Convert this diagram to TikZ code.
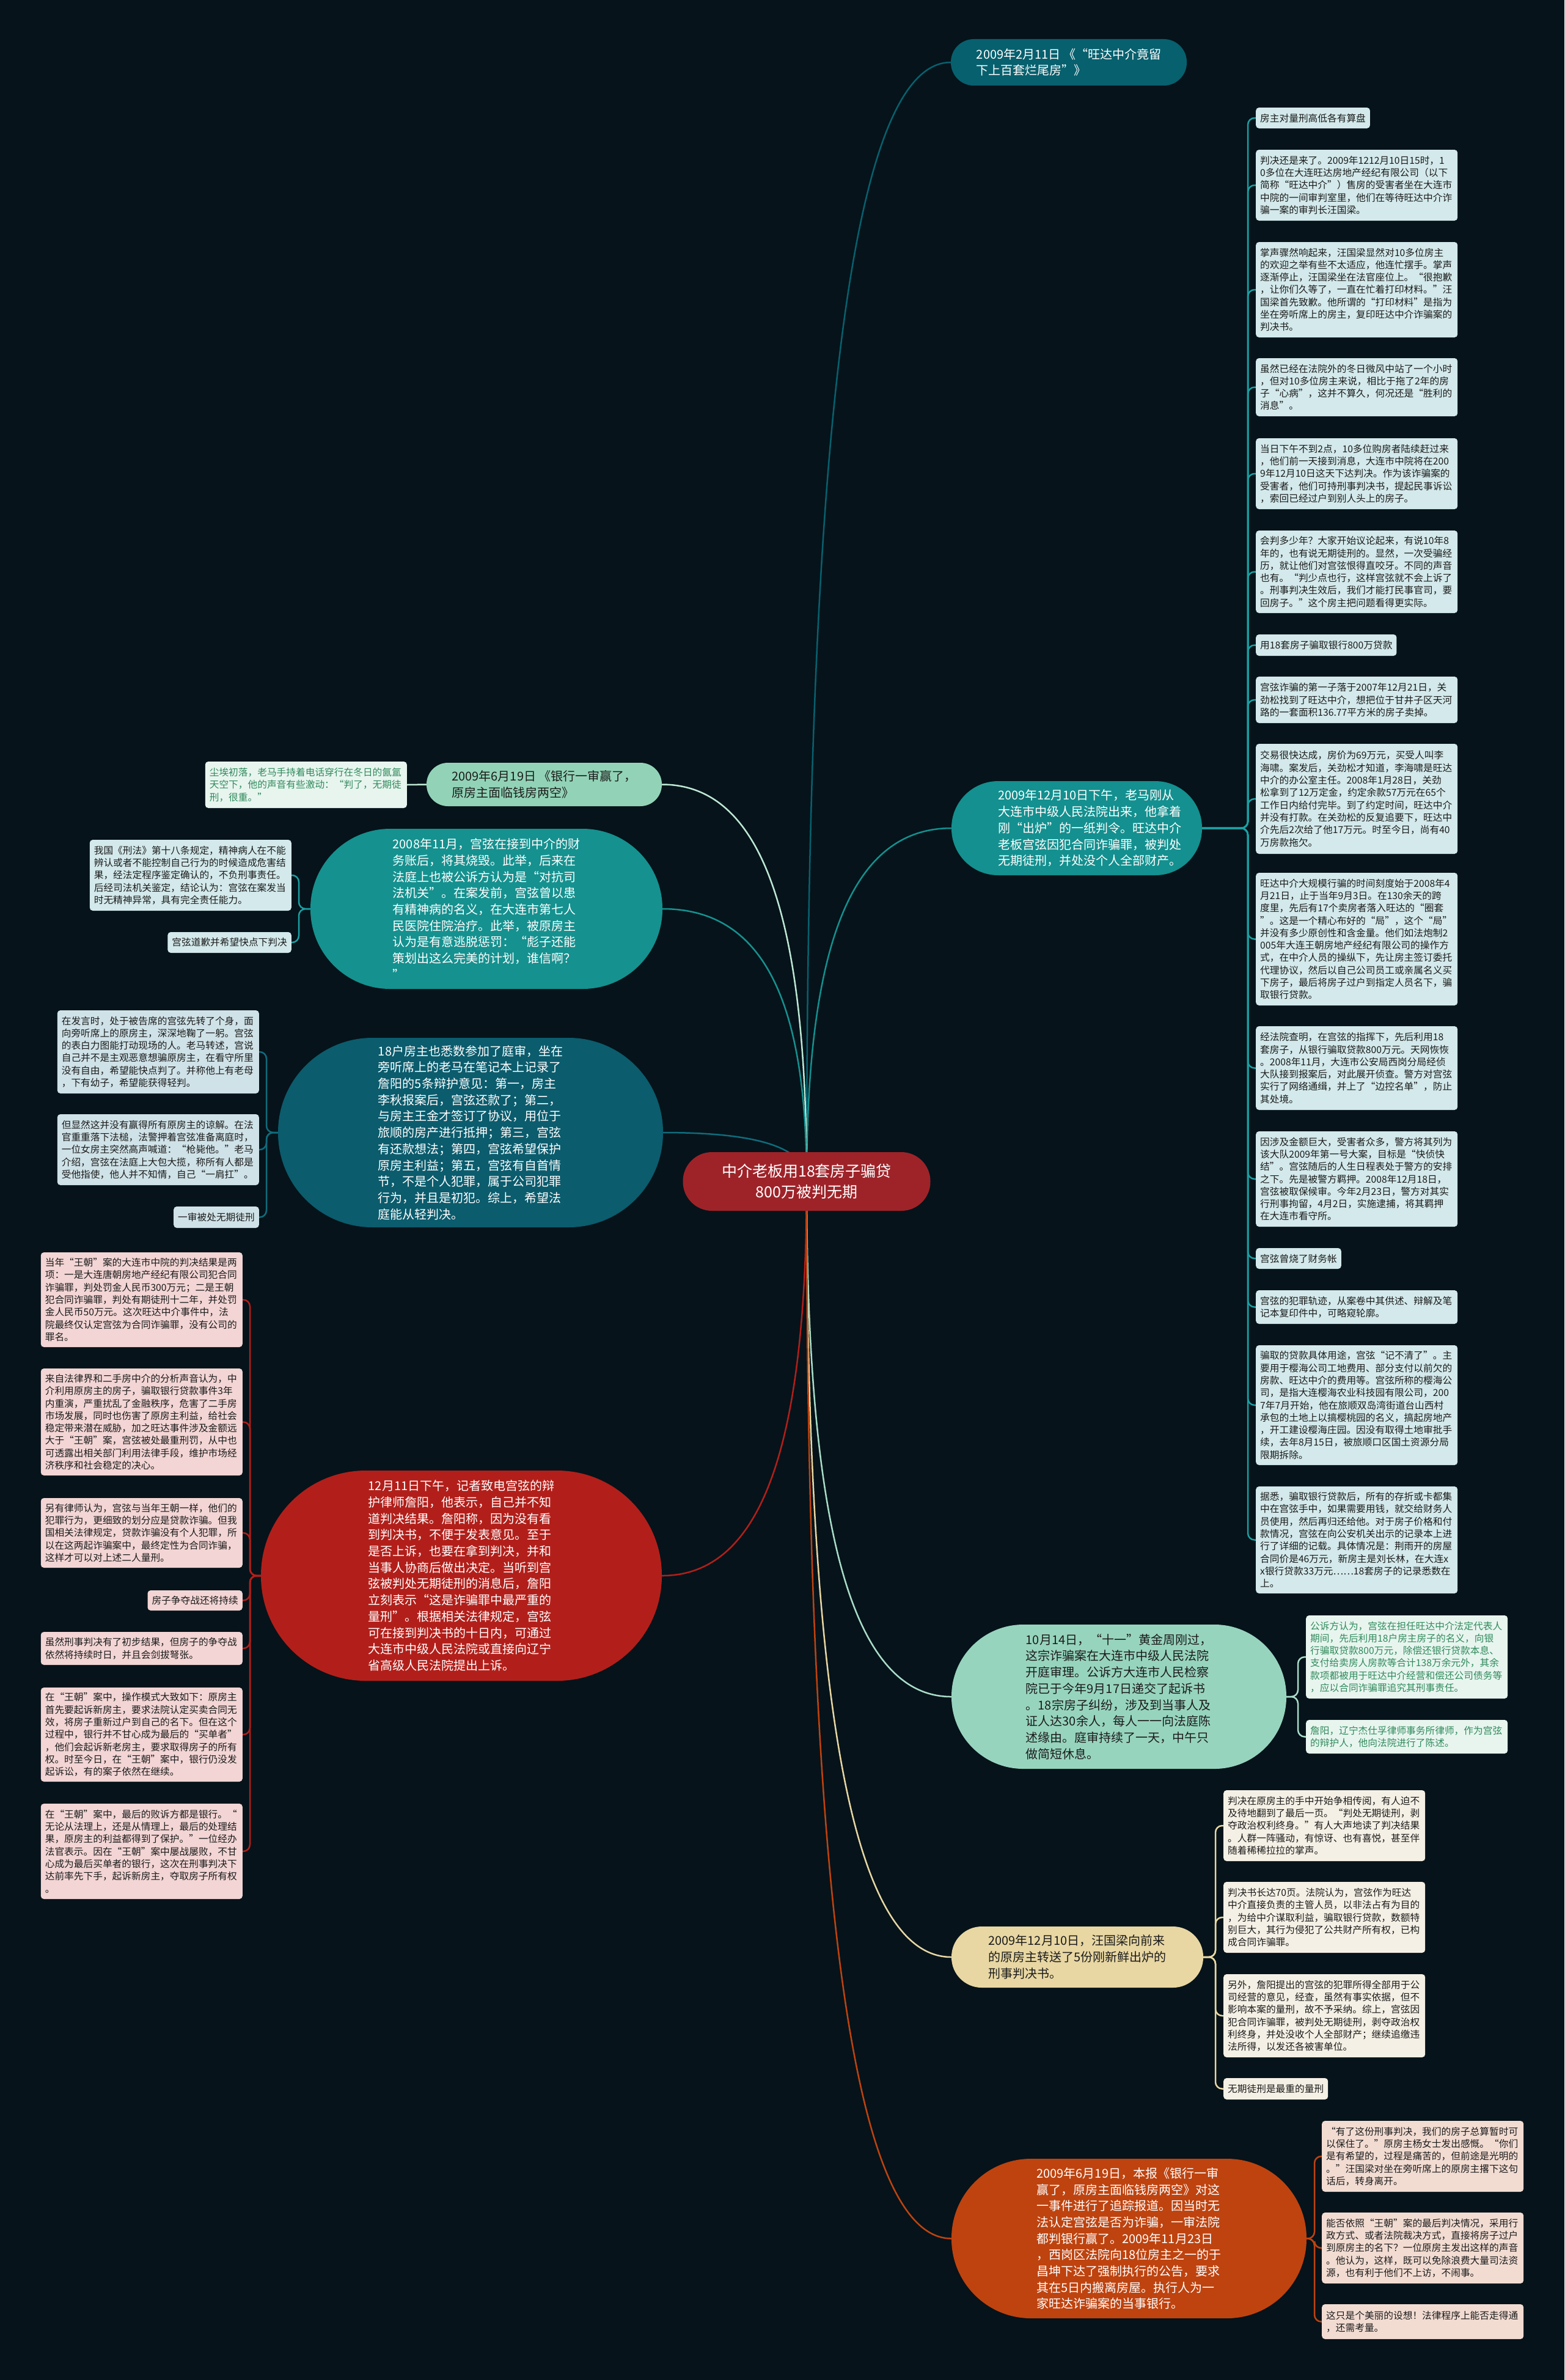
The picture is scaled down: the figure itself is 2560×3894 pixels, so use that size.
\documentclass[tikz,border=0pt]{standalone}
\usepackage{fontspec}
\setmainfont{Noto Sans CJK SC}
\usetikzlibrary{calc}
\pgfdeclarelayer{bg}
\pgfdeclarelayer{edges}
\pgfsetlayers{bg,edges,main}
\definecolor{bgc}{HTML}{06131A}
\definecolor{rootc}{HTML}{9E2329}
\definecolor{tfill}{HTML}{07606E}
\definecolor{dfill}{HTML}{13908F}
\definecolor{dleaf}{HTML}{D3E9EB}
\definecolor{dline}{HTML}{1A9FA2}
\definecolor{aonefill}{HTML}{92D3B7}
\definecolor{aoneline}{HTML}{BDE8D4}
\definecolor{gleaf}{HTML}{E8F5EF}
\definecolor{gtxt}{HTML}{2F8A5B}
\definecolor{atwofill}{HTML}{15918F}
\definecolor{athreefill}{HTML}{0B5C6D}
\definecolor{athreeleaf}{HTML}{CFE2E7}
\definecolor{athreeline}{HTML}{0F6B7C}
\definecolor{redfill}{HTML}{B21F1A}
\definecolor{redleaf}{HTML}{F2D5D4}
\definecolor{bonefill}{HTML}{97D4BE}
\definecolor{boneline}{HTML}{A9DDC8}
\definecolor{btwofill}{HTML}{E8D7A3}
\definecolor{btwoleaf}{HTML}{F5F0E5}
\definecolor{bthreefill}{HTML}{BE430F}
\definecolor{bthreeleaf}{HTML}{F2DCD2}
\definecolor{txtdark}{HTML}{1B1B1B}
\newcommand\lf{\fontsize{15.7pt}{20.3pt}\selectfont}
\newcommand\bfn{\fontsize{20pt}{26.7pt}\selectfont}
\newcommand\rtf{\fontsize{25pt}{34pt}\selectfont}
\newcommand\medge[2]{\draw[mlink,#1] (rc) .. controls ($(rc)!0.66!(rc|-#2)$) and ($(rc|-#2)!0.3!(#2)$) .. (#2);}
\tikzset{
 leafbox/.style={rounded corners=5pt, inner xsep=7pt, inner ysep=3pt, align=left, font=\lf, text=txtdark},
 wide/.style={text width=316pt},
 branch/.style={inner sep=0pt, align=left, font=\bfn},
 link/.style={line width=2.5pt, rounded corners=11pt},
 mlink/.style={line width=2.5pt},
}
\begin{document}
\begin{tikzpicture}[x=1pt,y=-1pt]
\useasboundingbox (0,0) rectangle (2560,3894);
\begin{pgfonlayer}{bg}
\fill[bgc] (0,0) rectangle (2560,3894);
\end{pgfonlayer}

% root
\node[fill=rootc, text=white, font=\rtf, align=center, minimum width=405pt, minimum height=96pt, rounded corners=47.5pt, inner sep=0pt] (root) at (1320,1933) {中介老板用18套房子骗贷\\800万被判无期};
\coordinate (rc) at (root.center);

% top branch
\node[branch, fill=tfill, text=white, minimum width=386pt, minimum height=76pt, rounded corners=37.5pt] (T) at (1749,102) {2009年2月11日 《“旺达中介竟留\\下上百套烂尾房”》};

% D branch (shape + text)
\node[branch, fill=dfill, minimum width=410pt, minimum height=154pt, rounded corners=76.5pt] (D) at (1762,1355) {};
\node[branch, text=white] (Dt) at (1783,1355) {2009年12月10日下午，老马刚从\\大连市中级人民法院出来，他拿着\\刚“出炉”的一纸判令。旺达中介\\老板宫弦因犯合同诈骗罪，被判处\\无期徒刑，并处没个人全部财产。};
\coordinate (Dj) at (2042,0);

\node[leafbox, fill=dleaf, anchor=west, minimum height=34pt] (D1) at (2055,193) {房主对量刑高低各有算盘};
\node[leafbox, wide, fill=dleaf, anchor=west, minimum height=116pt] (D2) at (2055,303) {判决还是来了。2009年1212月10日15时，1\\0多位在大连旺达房地产经纪有限公司（以下\\简称“旺达中介”）售房的受害者坐在大连市\\中院的一间审判室里，他们在等待旺达中介诈\\骗一案的审判长汪国梁。};
\node[leafbox, wide, fill=dleaf, anchor=west, minimum height=156pt] (D3) at (2055,474) {掌声骤然响起来，汪国梁显然对10多位房主\\的欢迎之举有些不太适应，他连忙摆手。掌声\\逐渐停止，汪国梁坐在法官座位上。“很抱歉\\，让你们久等了，一直在忙着打印材料。”汪\\国梁首先致歉。他所谓的“打印材料”是指为\\坐在旁听席上的房主，复印旺达中介诈骗案的\\判决书。};
\node[leafbox, wide, fill=dleaf, anchor=west, minimum height=95pt] (D4) at (2055,633.5) {虽然已经在法院外的冬日微风中站了一个小时\\，但对10多位房主来说，相比于拖了2年的房\\子“心病”，这并不算久，何况还是“胜利的\\消息”。};
\node[leafbox, wide, fill=dleaf, anchor=west, minimum height=116pt] (D5) at (2055,775) {当日下午不到2点，10多位购房者陆续赶过来\\，他们前一天接到消息，大连市中院将在200\\9年12月10日这天下达判决。作为该诈骗案的\\受害者，他们可持刑事判决书，提起民事诉讼\\，索回已经过户到别人头上的房子。};
\node[leafbox, wide, fill=dleaf, anchor=west, minimum height=135pt] (D6) at (2055,935.5) {会判多少年？大家开始议论起来，有说10年8\\年的，也有说无期徒刑的。显然，一次受骗经\\历，就让他们对宫弦恨得直咬牙。不同的声音\\也有。“判少点也行，这样宫弦就不会上诉了\\。刑事判决生效后，我们才能打民事官司，要\\回房子。”这个房主把问题看得更实际。};
\node[leafbox, fill=dleaf, anchor=west, minimum height=35pt] (D7) at (2055,1055.5) {用18套房子骗取银行800万贷款};
\node[leafbox, wide, fill=dleaf, anchor=west, minimum height=76pt] (D8) at (2055,1145) {宫弦诈骗的第一子落于2007年12月21日，关\\劲松找到了旺达中介，想把位于甘井子区天河\\路的一套面积136.77平方米的房子卖掉。};
\node[leafbox, wide, fill=dleaf, anchor=west, minimum height=180pt] (D9) at (2055,1307) {交易很快达成，房价为69万元，买受人叫李\\海啸。案发后，关劲松才知道，李海啸是旺达\\中介的办公室主任。2008年1月28日，关劲\\松拿到了12万定金，约定余款57万元在65个\\工作日内给付完毕。到了约定时间，旺达中介\\并没有打款。在关劲松的反复追要下，旺达中\\介先后2次给了他17万元。时至今日，尚有40\\万房款拖欠。};
\node[leafbox, wide, fill=dleaf, anchor=west, minimum height=217pt] (D10) at (2055,1536.5) {旺达中介大规模行骗的时间刻度始于2008年4\\月21日，止于当年9月3日。在130余天的跨\\度里，先后有17个卖房者落入旺达的“圈套\\”。这是一个精心布好的“局”，这个“局”\\并没有多少原创性和含金量。他们如法炮制2\\005年大连王朝房地产经纪有限公司的操作方\\式，在中介人员的操纵下，先让房主签订委托\\代理协议，然后以自己公司员工或亲属名义买\\下房子，最后将房子过户到指定人员名下，骗\\取银行贷款。};
\node[leafbox, wide, fill=dleaf, anchor=west, minimum height=137pt] (D11) at (2055,1747.5) {经法院查明，在宫弦的指挥下，先后利用18\\套房子，从银行骗取贷款800万元。天网恢恢\\。2008年11月，大连市公安局西岗分局经侦\\大队接到报案后，对此展开侦查。警方对宫弦\\实行了网络通缉，并上了“边控名单”，防止\\其处境。};
\node[leafbox, wide, fill=dleaf, anchor=west, minimum height=156pt] (D12) at (2055,1929) {因涉及金额巨大，受害者众多，警方将其列为\\该大队2009年第一号大案，目标是“快侦快\\结”。宫弦随后的人生日程表处于警方的安排\\之下。先是被警方羁押。2008年12月18日，\\宫弦被取保候审。今年2月23日，警方对其实\\行刑事拘留，4月2日，实施逮捕，将其羁押\\在大连市看守所。};
\node[leafbox, fill=dleaf, anchor=west, minimum height=34pt] (D13) at (2055,2059) {宫弦曾烧了财务帐};
\node[leafbox, wide, fill=dleaf, anchor=west, minimum height=55pt] (D14) at (2055,2138.5) {宫弦的犯罪轨迹，从案卷中其供述、辩解及笔\\记本复印件中，可略窥轮廓。};
\node[leafbox, wide, fill=dleaf, anchor=west, minimum height=196pt] (D15) at (2055,2299) {骗取的贷款具体用途，宫弦“记不清了”。主\\要用于樱海公司工地费用、部分支付以前欠的\\房款、旺达中介的费用等。宫弦所称的樱海公\\司，是指大连樱海农业科技园有限公司，200\\7年7月开始，他在旅顺双岛湾街道台山西村\\承包的土地上以搞樱桃园的名义，搞起房地产\\，开工建设樱海庄园。因没有取得土地审批手\\续，去年8月15日，被旅顺口区国土资源分局\\限期拆除。};
\node[leafbox, wide, fill=dleaf, anchor=west, minimum height=175pt] (D16) at (2055,2519.5) {据悉，骗取银行贷款后，所有的存折或卡都集\\中在宫弦手中，如果需要用钱，就交给财务人\\员使用，然后再归还给他。对于房子价格和付\\款情况，宫弦在向公安机关出示的记录本上进\\行了详细的记载。具体情况是：荆雨开的房屋\\合同价是46万元，新房主是刘长林，在大连x\\x银行贷款33万元……18套房子的记录悉数在\\上。};

% A1 branch
\node[branch, fill=aonefill, text=txtdark, minimum width=385pt, minimum height=71pt, rounded corners=35pt] (A1) at (890.5,1283.5) {2009年6月19日 《银行一审赢了，\\原房主面临钱房两空》};
\node[leafbox, wide, fill=gleaf, text=gtxt, anchor=east, minimum height=76pt] (A1a) at (666,1284) {尘埃初落，老马手持着电话穿行在冬日的氤氲\\天空下，他的声音有些激动：“判了，无期徒\\刑，很重。”};

% A2 branch
\node[branch, fill=atwofill, text=white, minimum width=576pt, minimum height=262pt, rounded corners=130.5pt] (A2) at (796,1487) {2008年11月，宫弦在接到中介的财\\务账后，将其烧毁。此举，后来在\\法庭上也被公诉方认为是“对抗司\\法机关”。在案发前，宫弦曾以患\\有精神病的名义，在大连市第七人\\民医院住院治疗。此举，被原房主\\认为是有意逃脱惩罚：“彪子还能\\策划出这么完美的计划，谁信啊？\\”};
\coordinate (A2j) at (489,0);
\node[leafbox, wide, fill=dleaf, anchor=east, minimum height=116pt] (A2a) at (477,1432) {我国《刑法》第十八条规定，精神病人在不能\\辨认或者不能控制自己行为的时候造成危害结\\果，经法定程序鉴定确认的，不负刑事责任。\\后经司法机关鉴定，结论认为：宫弦在案发当\\时无精神异常，具有完全责任能力。};
\node[leafbox, fill=dleaf, anchor=east, minimum height=34pt] (A2b) at (477,1542) {宫弦道歉并希望快点下判决};

% A3 branch
\node[branch, fill=athreefill, text=white, minimum width=630pt, minimum height=310pt, rounded corners=154.5pt] (A3) at (770,1853) {18户房主也悉数参加了庭审，坐在\\旁听席上的老马在笔记本上记录了\\詹阳的5条辩护意见：第一，房主\\李秋报案后，宫弦还款了；第二，\\与房主王金才签订了协议，用位于\\旅顺的房产进行抵押；第三，宫弦\\有还款想法；第四，宫弦希望保护\\原房主利益；第五，宫弦有自首情\\节，不是个人犯罪，属于公司犯罪\\行为，并且是初犯。综上，希望法\\庭能从轻判决。};
\coordinate (A3j) at (436,0);
\node[leafbox, wide, fill=athreeleaf, anchor=east, minimum height=136pt] (A3a) at (424,1721) {在发言时，处于被告席的宫弦先转了个身，面\\向旁听席上的原房主，深深地鞠了一躬。宫弦\\的表白力图能打动现场的人。老马转述，宫说\\自己并不是主观恶意想骗原房主，在看守所里\\没有自由，希望能快点判了。并称他上有老母\\，下有幼子，希望能获得轻判。};
\node[leafbox, wide, fill=athreeleaf, anchor=east, minimum height=116pt] (A3b) at (424,1881) {但显然这并没有赢得所有原房主的谅解。在法\\官重重落下法槌，法警押着宫弦准备离庭时，\\一位女房主突然高声喊道：“枪毙他。”老马\\介绍，宫弦在法庭上大包大揽，称所有人都是\\受他指使，他人并不知情，自己“一肩扛”。};
\node[leafbox, fill=athreeleaf, anchor=east, minimum height=35pt] (A3c) at (424,1991.5) {一审被处无期徒刑};

% A4 red branch
\node[branch, fill=redfill, text=white, minimum width=656pt, minimum height=344pt, rounded corners=171.5pt] (A4) at (755,2578) {12月11日下午，记者致电宫弦的辩\\护律师詹阳，他表示，自己并不知\\道判决结果。詹阳称，因为没有看\\到判决书，不便于发表意见。至于\\是否上诉，也要在拿到判决，并和\\当事人协商后做出决定。当听到宫\\弦被判处无期徒刑的消息后，詹阳\\立刻表示“这是诈骗罪中最严重的\\量刑”。根据相关法律规定，宫弦\\可在接到判决书的十日内，可通过\\大连市中级人民法院或直接向辽宁\\省高级人民法院提出上诉。};
\coordinate (A4j) at (409,0);
\node[leafbox, wide, fill=redleaf, anchor=east, minimum height=155pt] (A4a) at (397,2126.5) {当年“王朝”案的大连市中院的判决结果是两\\项：一是大连唐朝房地产经纪有限公司犯合同\\诈骗罪，判处罚金人民币300万元；二是王朝\\犯合同诈骗罪，判处有期徒刑十二年，并处罚\\金人民币50万元。这次旺达中介事件中，法\\院最终仅认定宫弦为合同诈骗罪，没有公司的\\罪名。};
\node[leafbox, wide, fill=redleaf, anchor=east, minimum height=175pt] (A4b) at (397,2326.5) {来自法律界和二手房中介的分析声音认为，中\\介利用原房主的房子，骗取银行贷款事件3年\\内重演，严重扰乱了金融秩序，危害了二手房\\市场发展，同时也伤害了原房主利益，给社会\\稳定带来潜在威胁，加之旺达事件涉及金额远\\大于“王朝”案，宫弦被处最重刑罚，从中也\\可透露出相关部门利用法律手段，维护市场经\\济秩序和社会稳定的决心。};
\node[leafbox, wide, fill=redleaf, anchor=east, minimum height=114pt] (A4c) at (397,2508) {另有律师认为，宫弦与当年王朝一样，他们的\\犯罪行为，更细致的划分应是贷款诈骗。但我\\国相关法律规定，贷款诈骗没有个人犯罪，所\\以在这两起诈骗案中，最终定性为合同诈骗，\\这样才可以对上述二人量刑。};
\node[leafbox, fill=redleaf, anchor=east, minimum height=33pt] (A4d) at (397,2618.5) {房子争夺战还将持续};
\node[leafbox, wide, fill=redleaf, anchor=east, minimum height=54pt] (A4e) at (397,2697) {虽然刑事判决有了初步结果，但房子的争夺战\\依然将持续时日，并且会剑拔弩张。};
\node[leafbox, wide, fill=redleaf, anchor=east, minimum height=154pt] (A4f) at (397,2838) {在“王朝”案中，操作模式大致如下：原房主\\首先要起诉新房主，要求法院认定买卖合同无\\效，将房子重新过户到自己的名下。但在这个\\过程中，银行并不甘心成为最后的“买单者”\\，他们会起诉新老房主，要求取得房子的所有\\权。时至今日，在“王朝”案中，银行仍没发\\起诉讼，有的案子依然在继续。};
\node[leafbox, wide, fill=redleaf, anchor=east, minimum height=156pt] (A4g) at (397,3029) {在“王朝”案中，最后的败诉方都是银行。“\\无论从法理上，还是从情理上，最后的处理结\\果，原房主的利益都得到了保护。”一位经办\\法官表示。因在“王朝”案中屡战屡败，不甘\\心成为最后买单者的银行，这次在刑事判决下\\达前率先下手，起诉新房主，夺取房子所有权\\。};

% B1 branch
\node[branch, fill=bonefill, text=txtdark, minimum width=548pt, minimum height=236pt, rounded corners=117.5pt] (B1) at (1831,2776) {10月14日，“十一”黄金周刚过，\\这宗诈骗案在大连市中级人民法院\\开庭审理。公诉方大连市人民检察\\院已于今年9月17日递交了起诉书\\。18宗房子纠纷，涉及到当事人及\\证人达30余人，每人一一向法庭陈\\述缘由。庭审持续了一天，中午只\\做简短休息。};
\coordinate (B1j) at (2124,0);
\node[leafbox, wide, fill=gleaf, text=gtxt, anchor=west, minimum height=136pt] (B1a) at (2137,2711) {公诉方认为，宫弦在担任旺达中介法定代表人\\期间，先后利用18户房主房子的名义，向银\\行骗取贷款800万元，除偿还银行贷款本息、\\支付给卖房人房款等合计138万余元外，其余\\款项都被用于旺达中介经营和偿还公司债务等\\，应以合同诈骗罪追究其刑事责任。};
\node[leafbox, wide, fill=gleaf, text=gtxt, anchor=west, minimum height=55pt] (B1b) at (2137,2841.5) {詹阳，辽宁杰仕孚律师事务所律师，作为宫弦\\的辩护人，他向法院进行了陈述。};

% B2 branch
\node[branch, fill=btwofill, text=txtdark, minimum width=412pt, minimum height=100pt, rounded corners=49.5pt] (B2) at (1763,3202) {2009年12月10日，汪国梁向前来\\的原房主转送了5份刚新鲜出炉的\\刑事判决书。};
\coordinate (B2j) at (1989,0);
\node[leafbox, wide, fill=btwoleaf, anchor=west, minimum height=116pt] (B2a) at (2002,2987) {判决在原房主的手中开始争相传阅，有人迫不\\及待地翻到了最后一页。“判处无期徒刑，剥\\夺政治权利终身。”有人大声地读了判决结果\\。人群一阵骚动，有惊讶、也有喜悦，甚至伴\\随着稀稀拉拉的掌声。};
\node[leafbox, wide, fill=btwoleaf, anchor=west, minimum height=116pt] (B2b) at (2002,3137) {判决书长达70页。法院认为，宫弦作为旺达\\中介直接负责的主管人员，以非法占有为目的\\，为给中介谋取利益，骗取银行贷款，数额特\\别巨大，其行为侵犯了公共财产所有权，已构\\成合同诈骗罪。};
\node[leafbox, wide, fill=btwoleaf, anchor=west, minimum height=136pt] (B2c) at (2002,3298) {另外，詹阳提出的宫弦的犯罪所得全部用于公\\司经营的意见，经查，虽然有事实依据，但不\\影响本案的量刑，故不予采纳。综上，宫弦因\\犯合同诈骗罪，被判处无期徒刑，剥夺政治权\\利终身，并处没收个人全部财产；继续追缴违\\法所得，以发还各被害单位。};
\node[leafbox, fill=btwoleaf, anchor=west, minimum height=35pt] (B2d) at (2002,3417.5) {无期徒刑是最重的量刑};

% B3 branch
\node[branch, fill=bthreefill, text=white, minimum width=581pt, minimum height=261pt, rounded corners=130pt] (B3) at (1847.5,3662.5) {2009年6月19日，本报《银行一审\\赢了，原房主面临钱房两空》对这\\一事件进行了追踪报道。因当时无\\法认定宫弦是否为诈骗，一审法院\\都判银行赢了。2009年11月23日\\，西岗区法院向18位房主之一的于\\昌坤下达了强制执行的公告，要求\\其在5日内搬离房屋。执行人为一\\家旺达诈骗案的当事银行。};
\coordinate (B3j) at (2151,0);
\node[leafbox, wide, fill=bthreeleaf, anchor=west, minimum height=116pt] (B3a) at (2163,3528) {“有了这份刑事判决，我们的房子总算暂时可\\以保住了。”原房主杨女士发出感慨。“你们\\是有希望的，过程是痛苦的，但前途是光明的\\。”汪国梁对坐在旁听席上的原房主撂下这句\\话后，转身离开。};
\node[leafbox, wide, fill=bthreeleaf, anchor=west, minimum height=116pt] (B3b) at (2163,3678) {能否依照“王朝”案的最后判决情况，采用行\\政方式、或者法院裁决方式，直接将房子过户\\到原房主的名下？一位原房主发出这样的声音\\。他认为，这样，既可以免除浪费大量司法资\\源，也有利于他们不上访，不闹事。};
\node[leafbox, wide, fill=bthreeleaf, anchor=west, minimum height=57pt] (B3c) at (2163,3798.5) {这只是个美丽的设想！法律程序上能否走得通\\，还需考量。};

% edges
\begin{pgfonlayer}{edges}
\medge{draw=tfill}{T.west}
\medge{draw=dfill}{D.west}
\medge{draw=aoneline}{A1.east}
\medge{draw=atwofill}{A2.east}
\medge{draw=athreeline}{A3.east}
\medge{draw=redfill}{A4.east}
\medge{draw=boneline}{B1.west}
\medge{draw=btwofill}{B2.west}
\medge{draw=bthreefill}{B3.west}
\foreach \i in {1,...,16} \draw[link, draw=dline] (D.east) -- (D.east -| Dj) |- (D\i.west);
\draw[link, draw=aoneline] (A1.west) -- (A1a.east);
\foreach \i in {a,b} \draw[link, draw=dline] (A2.west) -- (A2.west -| A2j) |- (A2\i.east);
\foreach \i in {a,b,c} \draw[link, draw=athreeline] (A3.west) -- (A3.west -| A3j) |- (A3\i.east);
\foreach \i in {a,b,c,d,e,f,g} \draw[link, draw=redfill] (A4.west) -- (A4.west -| A4j) |- (A4\i.east);
\foreach \i in {a,b} \draw[link, draw=boneline] (B1.east) -- (B1.east -| B1j) |- (B1\i.west);
\foreach \i in {a,b,c,d} \draw[link, draw=btwofill] (B2.east) -- (B2.east -| B2j) |- (B2\i.west);
\foreach \i in {a,b,c} \draw[link, draw=bthreefill] (B3.east) -- (B3.east -| B3j) |- (B3\i.west);
\end{pgfonlayer}
\end{tikzpicture}
\end{document}
